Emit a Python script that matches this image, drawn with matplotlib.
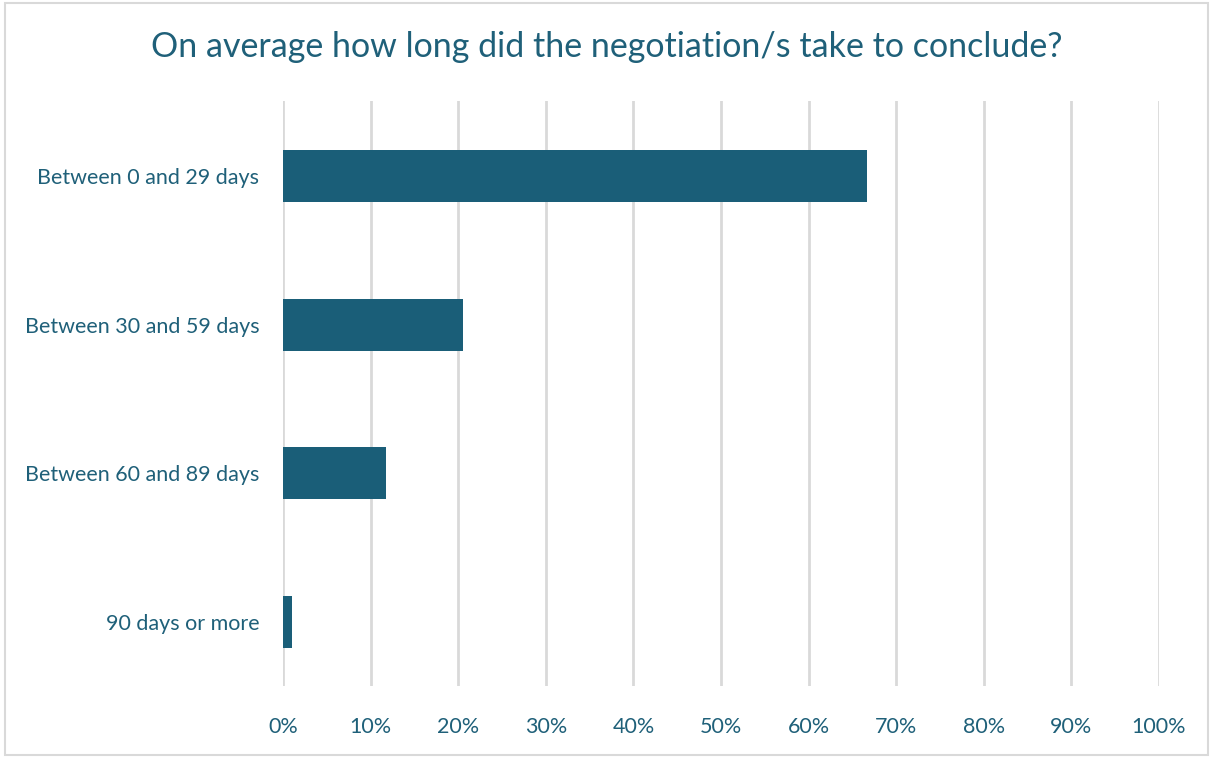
import matplotlib.pyplot as plt
from matplotlib.patches import Rectangle

categories = ['Between 0 and 29 days', 'Between 30 and 59 days',
              'Between 60 and 89 days', '90 days or more']
shares = [66.7, 20.5, 11.8, 1.0]
ticks = [0, 10, 20, 30, 40, 50, 60, 70, 80, 90, 100]
tick_labels = ['0%', '10%', '20%', '30%', '40%', '50%', '60%', '70%', '80%', '90%', '100%']

col = '#1A5E78'
txt = '#1F6079'
plt.rcParams['font.family'] = ['Lato', 'DejaVu Sans']

fig = plt.figure(figsize=(12.13, 7.58), dpi=100)
ax = fig.add_axes([283/1213, 1-686/758, (1159-283)/1213, (686-101)/758])

ax.barh(range(len(categories)), shares, height=0.35, color=col, zorder=3)
ax.set_xlim(0, 100)
ax.set_ylim(3.43, -0.504)
ax.set_xticks(ticks)
ax.set_xticklabels(tick_labels)
ax.set_yticks(range(len(categories)))
ax.set_yticklabels(categories)
ax.tick_params(axis='x', length=0, pad=22, labelsize=15.5, colors=txt)
ax.tick_params(axis='y', length=0, pad=17, labelsize=15.5, colors=txt)
ax.grid(axis='x', color='#D9D9D9', linewidth=2, zorder=0)
for s in ax.spines.values():
    s.set_visible(False)

fig.text(607/1213, 1-47/758, 'On average how long did the negotiation/s take to conclude?',
         ha='center', va='center', fontsize=24.5, color=txt)

fig.patches.append(Rectangle((0.004, 0.004), 0.992, 0.992, transform=fig.transFigure,
                             fill=False, edgecolor='#D9D9D9', linewidth=1.5))

fig.savefig('out.png', dpi=100)
